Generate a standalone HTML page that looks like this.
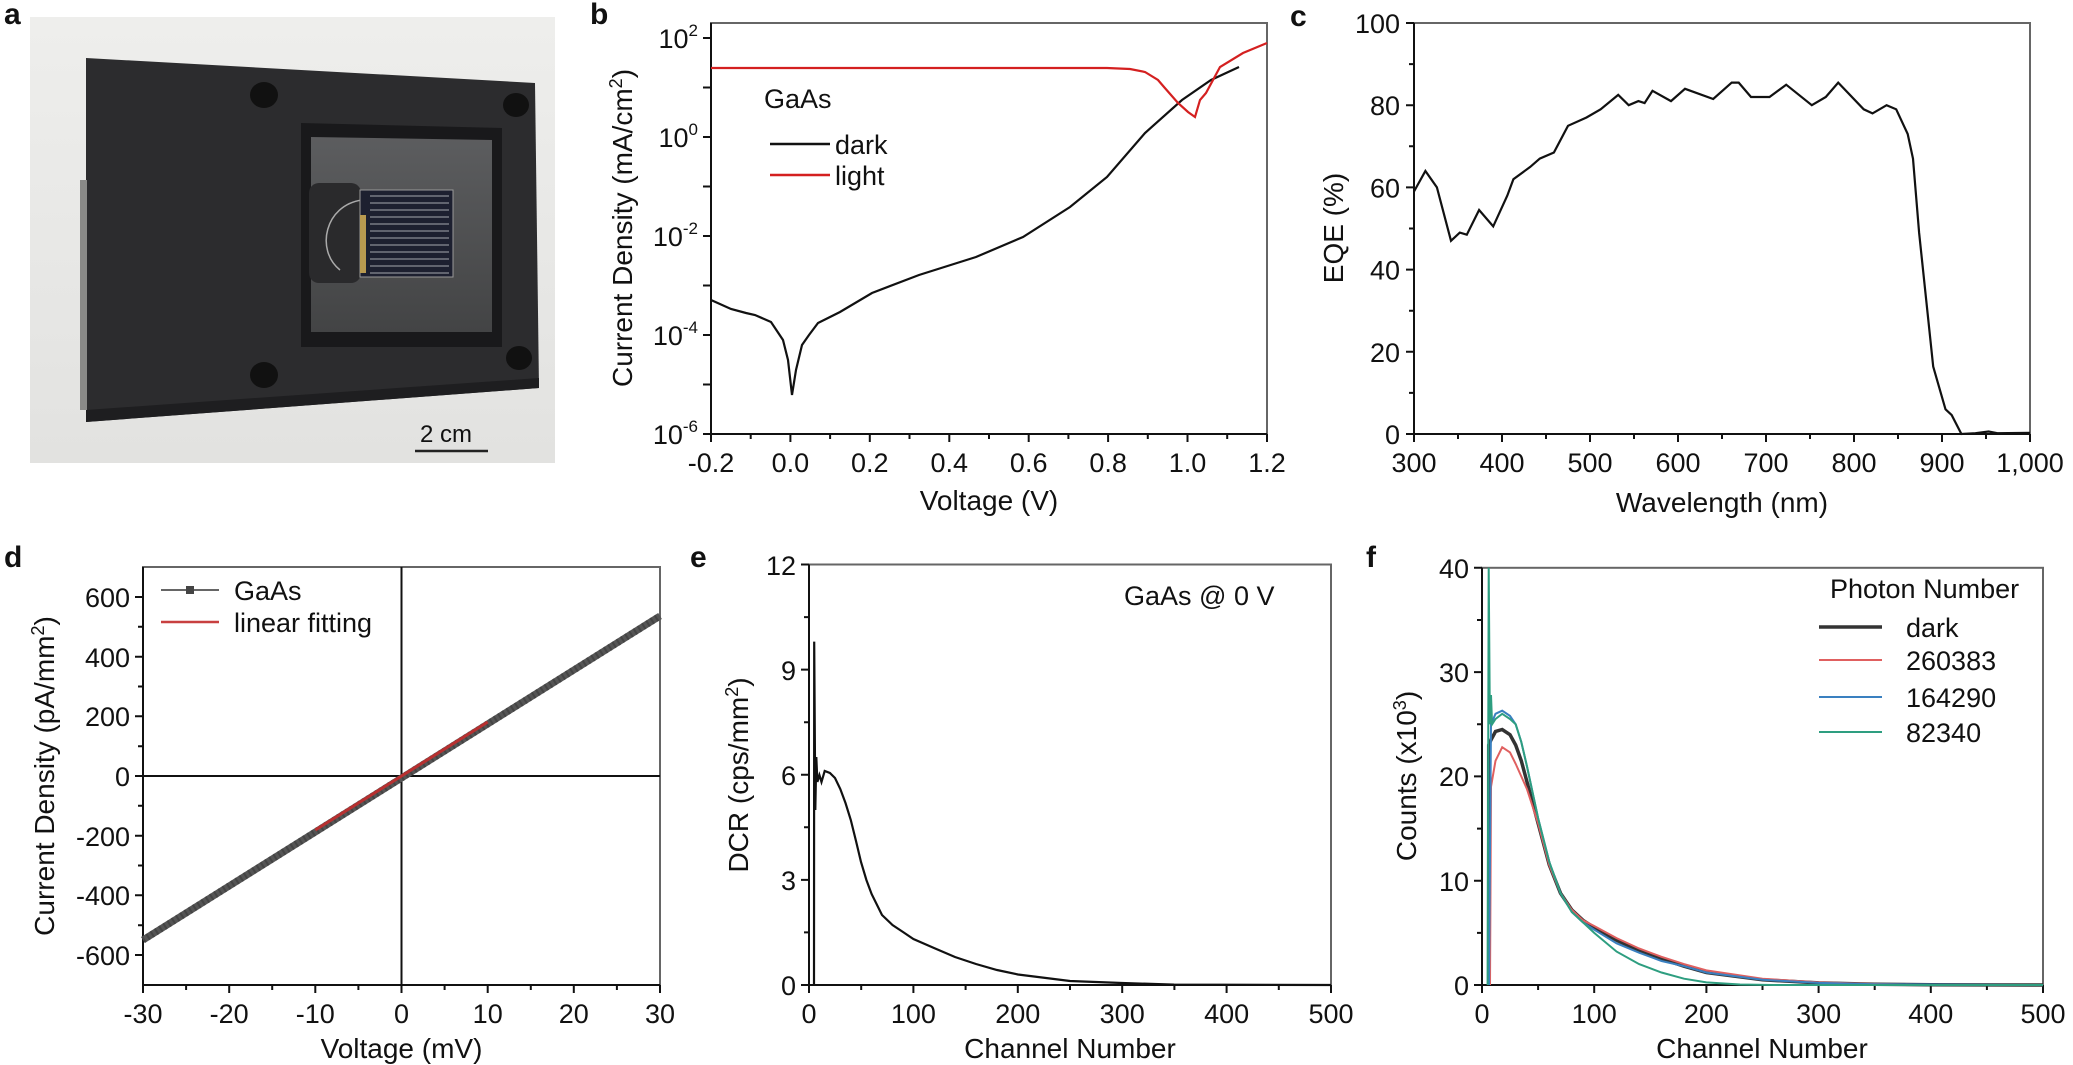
<!DOCTYPE html>
<html><head><meta charset="utf-8"><style>
html,body{margin:0;padding:0;background:#fff;}
svg{display:block;}
text{font-family:"Liberation Sans",Arial,sans-serif;fill:#111;}
.t{font-size:27px;}
.ti{font-size:28px;}
.L{font-size:30px;font-weight:bold;}
</style></head><body>
<svg width="2073" height="1065" viewBox="0 0 2073 1065" xmlns="http://www.w3.org/2000/svg">
<defs>
<linearGradient id="bg" x1="0" y1="0" x2="0" y2="1"><stop offset="0" stop-color="#eeeeec"/><stop offset="1" stop-color="#e2e2e0"/></linearGradient>
<linearGradient id="gl" x1="0" y1="0" x2="0" y2="1"><stop offset="0" stop-color="#5c5d5f"/><stop offset="1" stop-color="#434445"/></linearGradient>
</defs>
<!-- panel a photo -->
<rect x="30" y="17" width="525" height="446" fill="url(#bg)"/>
<polygon points="86,58 535,83 539,388 86,422" fill="#2c2c2e"/>
<polygon points="86,410 539,378 539,388 86,422" fill="#1e1e20"/>
<rect x="80" y="180" width="7" height="230" fill="#8a8a88"/>
<polygon points="301,123 502,128 502,347 301,347" fill="#19191b"/>
<polygon points="311,137 492,140 492,332 311,332" fill="url(#gl)"/>
<rect x="309" y="183" width="52" height="100" rx="10" fill="#2a2a2c"/>
<path d="M362,200 C325,205 315,250 340,270" stroke="#aaa" stroke-width="1.5" fill="none"/>
<rect x="360" y="190" width="93" height="87" fill="#1d2030" stroke="#999" stroke-width="1"/>
<g stroke="#8a8c95" stroke-width="1.2">
<line x1="370" y1="196" x2="449" y2="196"/><line x1="370" y1="203" x2="449" y2="203"/><line x1="370" y1="210" x2="449" y2="210"/><line x1="370" y1="217" x2="449" y2="217"/><line x1="370" y1="224" x2="449" y2="224"/><line x1="370" y1="231" x2="449" y2="231"/><line x1="370" y1="238" x2="449" y2="238"/><line x1="370" y1="245" x2="449" y2="245"/><line x1="370" y1="252" x2="449" y2="252"/><line x1="370" y1="259" x2="449" y2="259"/><line x1="370" y1="266" x2="449" y2="266"/><line x1="370" y1="273" x2="449" y2="273"/>
</g>
<rect x="360" y="215" width="6" height="58" fill="#b89a50"/>
<ellipse cx="264" cy="95" rx="14" ry="13" fill="#111"/><ellipse cx="516" cy="105" rx="13" ry="12" fill="#111"/>
<ellipse cx="264" cy="375" rx="14" ry="13" fill="#111"/><ellipse cx="519" cy="358" rx="13" ry="12" fill="#111"/>
<text x="446" y="442" text-anchor="middle" style="font-size:24px">2 cm</text>
<line x1="415" y1="451" x2="488" y2="451" stroke="#222" stroke-width="2.5"/>
<text class="L" x="4" y="24">a</text>
<text class="L" x="590" y="24">b</text>
<text class="L" x="1290" y="26">c</text>
<text class="L" x="4" y="567">d</text>
<text class="L" x="690" y="567">e</text>
<text class="L" x="1366" y="567">f</text>

<!-- panel b -->
<g stroke="#111" stroke-width="2" fill="none">
<rect x="711" y="23" width="556" height="411" stroke="#666"/>
<line x1="711" y1="23" x2="711" y2="434"/><line x1="711" y1="434" x2="1267" y2="434"/>
<path d="M711,434v8M750.7,434v5M790.4,434v8M830.1,434v5M869.8,434v8M909.5,434v5M949.3,434v8M989,434v5M1028.7,434v8M1068.4,434v5M1108.1,434v8M1147.8,434v5M1187.5,434v8M1227.2,434v5M1267,434v8"/>
<path d="M711,38h-8M711,87.5h-8M711,137h-8M711,186.5h-8M711,236h-8M711,285.5h-8M711,335h-8M711,384.5h-8M711,434h-8"/>
</g>
<g class="t" text-anchor="middle">
<text x="711" y="472">-0.2</text><text x="790.4" y="472">0.0</text><text x="869.8" y="472">0.2</text><text x="949.3" y="472">0.4</text><text x="1028.7" y="472">0.6</text><text x="1108.1" y="472">0.8</text><text x="1187.5" y="472">1.0</text><text x="1267" y="472">1.2</text>
</g>
<g class="t" text-anchor="end">
<text x="698" y="48">10<tspan dy="-12" style="font-size:17px">2</tspan></text>
<text x="698" y="147">10<tspan dy="-12" style="font-size:17px">0</tspan></text>
<text x="698" y="246">10<tspan dy="-12" style="font-size:17px">-2</tspan></text>
<text x="698" y="345">10<tspan dy="-12" style="font-size:17px">-4</tspan></text>
<text x="698" y="444">10<tspan dy="-12" style="font-size:17px">-6</tspan></text>
</g>
<text class="ti" x="989" y="510" text-anchor="middle">Voltage (V)</text>
<text class="ti" transform="translate(632,228) rotate(-90)" text-anchor="middle">Current Density (mA/cm<tspan dy="-10" style="font-size:18px">2</tspan><tspan dy="10">)</tspan></text>
<path d="M711,300 L731,309 746,313 755,315 771,322 783,340 788,360 792,395 796,370 802,345 809,335 818,323 840,312 872,293 919,275 976,257 1023,237 1070,207 1107,177 1145,133 1182,100 1211,80 1239,67" stroke="#111" stroke-width="2.2" fill="none"/>
<path d="M711,68 L1107,68 1130,69 1145,72 1158,80 1164,87 1178,103 1188,112 1195,117 1200,100 1206,93 1220,67 1243,53 1267,43" stroke="#d42020" stroke-width="2.2" fill="none"/>
<text class="t" x="764" y="108">GaAs</text>
<line x1="770" y1="144" x2="830" y2="144" stroke="#111" stroke-width="2.5"/>
<text class="t" x="835" y="154">dark</text>
<line x1="770" y1="175" x2="830" y2="175" stroke="#d42020" stroke-width="2.5"/>
<text class="t" x="835" y="185">light</text>

<!-- panel c -->
<g stroke="#111" stroke-width="2" fill="none">
<rect x="1414" y="23" width="616" height="411" stroke="#666"/>
<line x1="1414" y1="23" x2="1414" y2="434"/><line x1="1414" y1="434" x2="2030" y2="434"/>
<path d="M1414,434v8M1458,434v5M1502,434v8M1546,434v5M1590,434v8M1634,434v5M1678,434v8M1722,434v5M1766,434v8M1810,434v5M1854,434v8M1898,434v5M1942,434v8M1986,434v5M2030,434v8"/>
<path d="M1414,434h-8M1414,392.9h-5M1414,351.8h-8M1414,310.7h-5M1414,269.6h-8M1414,228.5h-5M1414,187.4h-8M1414,146.3h-5M1414,105.2h-8M1414,64.1h-5M1414,23h-8"/>
</g>
<g class="t" text-anchor="middle">
<text x="1414" y="472">300</text><text x="1502" y="472">400</text><text x="1590" y="472">500</text><text x="1678" y="472">600</text><text x="1766" y="472">700</text><text x="1854" y="472">800</text><text x="1942" y="472">900</text><text x="2030" y="472">1,000</text>
</g>
<g class="t" text-anchor="end">
<text x="1400" y="444">0</text><text x="1400" y="361.8">20</text><text x="1400" y="279.6">40</text><text x="1400" y="197.4">60</text><text x="1400" y="115.2">80</text><text x="1400" y="33">100</text>
</g>
<text class="ti" x="1722" y="512" text-anchor="middle">Wavelength (nm)</text>
<text class="ti" transform="translate(1343,228) rotate(-90)" text-anchor="middle">EQE (%)</text>
<path d="M1414,191.5 L1425.4,171 1436.9,187.4 1451,240.8 1459.8,232.6 1466.8,234.7 1479.1,210 1493.2,226.4 1507.3,195.6 1513.4,179.2 1530.2,166.9 1539.8,158.6 1553.9,152.5 1568,125.8 1586.5,117.5 1600.6,109.3 1618.2,94.9 1628.7,105.2 1638.4,101.1 1644.6,103.1 1652.5,90.8 1671,101.1 1685,88.8 1713.2,99 1731.7,82.6 1738.7,82.6 1751,97 1769.5,97 1786.2,84.7 1811.8,105.2 1825.8,97 1838.2,82.6 1863.7,109.3 1872.5,113.4 1886.6,105.2 1896.2,109.3 1907.7,134 1913,158.6 1919.1,232.6 1926.2,300 1933.2,366.6 1945.5,409.3 1951.7,415.1 1961.4,434 1975.4,433.2 1988.6,431.5 1997.4,433.2 2030,432.8" stroke="#111" stroke-width="2.2" fill="none"/>

<!-- panel d -->
<g stroke="#111" stroke-width="2" fill="none">
<rect x="143" y="567" width="517" height="418" stroke="#666"/>
<line x1="143" y1="567" x2="143" y2="985"/><line x1="143" y1="985" x2="660" y2="985"/>
<line x1="401.5" y1="567" x2="401.5" y2="985"/><line x1="143" y1="776" x2="660" y2="776"/>
<path d="M143,985v8M186.1,985v5M229.2,985v8M272.2,985v5M315.3,985v8M358.4,985v5M401.5,985v8M444.6,985v5M487.7,985v8M530.8,985v5M573.8,985v8M616.9,985v5M660,985v8"/>
<path d="M143,597h-8M143,626.8h-5M143,656.7h-8M143,686.5h-5M143,716.3h-8M143,746.2h-5M143,776h-8M143,805.8h-5M143,835.7h-8M143,865.5h-5M143,895.3h-8M143,925.2h-5M143,955h-8"/>
</g>
<g class="t" text-anchor="middle">
<text x="143" y="1023">-30</text><text x="229.2" y="1023">-20</text><text x="315.3" y="1023">-10</text><text x="401.5" y="1023">0</text><text x="487.7" y="1023">10</text><text x="573.8" y="1023">20</text><text x="660" y="1023">30</text>
</g>
<g class="t" text-anchor="end">
<text x="130" y="607">600</text><text x="130" y="667">400</text><text x="130" y="726">200</text><text x="130" y="786">0</text><text x="130" y="846">-200</text><text x="130" y="905">-400</text><text x="130" y="965">-600</text>
</g>
<text class="ti" x="401.5" y="1058" text-anchor="middle">Voltage (mV)</text>
<text class="ti" transform="translate(54,776) rotate(-90)" text-anchor="middle">Current Density (pA/mm<tspan dy="-10" style="font-size:18px">2</tspan><tspan dy="10">)</tspan></text>
<line x1="143" y1="940" x2="660" y2="616" stroke="#555" stroke-width="7"/>
<line x1="143" y1="940" x2="660" y2="616" stroke="#444" stroke-width="7" stroke-dasharray="2,3"/>
<line x1="315.3" y1="830" x2="487.7" y2="722" stroke="#b83030" stroke-width="3"/>
<line x1="161" y1="590" x2="219" y2="590" stroke="#666" stroke-width="2"/>
<rect x="186" y="586" width="8" height="8" fill="#444"/>
<text class="t" x="234" y="600">GaAs</text>
<line x1="161" y1="622" x2="219" y2="622" stroke="#c84040" stroke-width="2.5"/>
<text class="t" x="234" y="632">linear fitting</text>

<!-- panel e -->
<g stroke="#111" stroke-width="2" fill="none">
<rect x="809" y="564.5" width="522" height="420.5" stroke="#666"/>
<line x1="809" y1="564.5" x2="809" y2="985"/><line x1="809" y1="985" x2="1331" y2="985"/>
<path d="M809,985v8M861.2,985v5M913.4,985v8M965.6,985v5M1017.8,985v8M1070,985v5M1122.2,985v8M1174.4,985v5M1226.6,985v8M1278.8,985v5M1331,985v8"/>
<path d="M809,985h-8M809,932.4h-5M809,879.9h-8M809,827.3h-5M809,774.8h-8M809,722.2h-5M809,669.6h-8M809,617.1h-5M809,564.5h-8"/>
</g>
<g class="t" text-anchor="middle">
<text x="809" y="1023">0</text><text x="913.4" y="1023">100</text><text x="1017.8" y="1023">200</text><text x="1122.2" y="1023">300</text><text x="1226.6" y="1023">400</text><text x="1331" y="1023">500</text>
</g>
<g class="t" text-anchor="end">
<text x="796" y="995">0</text><text x="796" y="890">3</text><text x="796" y="785">6</text><text x="796" y="680">9</text><text x="796" y="575">12</text>
</g>
<text class="ti" x="1070" y="1058" text-anchor="middle">Channel Number</text>
<text class="ti" transform="translate(748,775) rotate(-90)" text-anchor="middle">DCR (cps/mm<tspan dy="-10" style="font-size:18px">2</tspan><tspan dy="10">)</tspan></text>
<text class="t" x="1124" y="605">GaAs @ 0 V</text>
<path d="M814,985 L814.2,641.6 815.3,810 816.3,757 817.4,782 819.4,775 821.5,782 824.7,771 829.9,773 835,778 840.3,789 845.5,803 850.8,820 856,841 861,862 866.4,880 871.6,894 882,915 892.5,925 903,932 913.4,939 934,948 955,957 976,964 997,970 1018,974.5 1070,981 1122,983 1174,984.6 1331,985" stroke="#111" stroke-width="2.2" fill="none"/>

<!-- panel f -->
<g stroke="#111" stroke-width="2" fill="none">
<rect x="1482" y="567.8" width="561" height="417.2" stroke="#666"/>
<line x1="1482" y1="567.8" x2="1482" y2="985"/><line x1="1482" y1="985" x2="2043" y2="985"/>
<path d="M1482,985v8M1538.1,985v5M1594.2,985v8M1650.3,985v5M1706.4,985v8M1762.5,985v5M1818.6,985v8M1874.7,985v5M1930.8,985v8M1986.9,985v5M2043,985v8"/>
<path d="M1482,985h-8M1482,932.9h-5M1482,880.7h-8M1482,828.6h-5M1482,776.4h-8M1482,724.3h-5M1482,672.1h-8M1482,620h-5M1482,567.8h-8"/>
</g>
<g class="t" text-anchor="middle">
<text x="1482" y="1023">0</text><text x="1594.2" y="1023">100</text><text x="1706.4" y="1023">200</text><text x="1818.6" y="1023">300</text><text x="1930.8" y="1023">400</text><text x="2043" y="1023">500</text>
</g>
<g class="t" text-anchor="end">
<text x="1469" y="995">0</text><text x="1469" y="891">10</text><text x="1469" y="786">20</text><text x="1469" y="682">30</text><text x="1469" y="578">40</text>
</g>
<text class="ti" x="1762" y="1058" text-anchor="middle">Channel Number</text>
<text class="ti" transform="translate(1416,776) rotate(-90)" text-anchor="middle">Counts (x10<tspan dy="-10" style="font-size:18px">3</tspan><tspan dy="10">)</tspan></text>
<path d="M1488.7,985 L1488.7,745 1491,739.9 1495.5,731.5 1502.2,729.5 1510,734.7 1515.7,745.1 1521.3,760.8 1526.9,781.6 1538.1,823.3 1549.3,865 1560.5,893.2 1571.8,909.9 1583,920.3 1594.2,927.6 1616.6,940.2 1639.1,950.6 1661.5,958.9 1684,966.2 1706.4,972.5 1762.5,979.8 1818.6,982.9 1874.7,984.2 1930.8,984.8 2043,985" stroke="#333" stroke-width="3.5" fill="none"/>
<path d="M1490,985 L1491,786.8 1495.5,760.8 1502.2,747.2 1510,752.4 1515.7,763.9 1521.3,776.4 1526.9,789 1538.1,823.3 1549.3,865 1560.5,893.2 1571.8,909.9 1583,920.3 1594.2,926 1616.6,938.1 1639.1,948.5 1661.5,956.8 1684,964.1 1706.4,970.4 1762.5,978.7 1818.6,982.4 1874.7,984 1930.8,984.8 2043,985" stroke="#e06060" stroke-width="2" fill="none"/>
<path d="M1489,985 L1491,724.3 1495.5,713.8 1502.2,710.7 1510,715.9 1515.7,724.3 1521.3,742 1526.9,766 1538.1,818.1 1549.3,861.9 1560.5,893.2 1571.8,912 1583,922.4 1594.2,929.7 1616.6,943.3 1639.1,952.7 1661.5,961 1684,966.2 1706.4,972.5 1762.5,979.8 1818.6,982.9 1874.7,984.2 2043,985" stroke="#3a80c0" stroke-width="2" fill="none"/>
<path d="M1487.6,985 L1488.7,567.8 1489.9,724.3 1491,695 1492.1,724.3 1495.5,719 1502.2,713.8 1510,719 1515.7,724.3 1521.3,742 1526.9,766 1538.1,818.1 1549.3,861.9 1560.5,893.2 1571.8,912 1583,922.4 1594.2,932.9 1616.6,951.6 1639.1,964.1 1661.5,972.5 1684,978.7 1706.4,982.4 1740,984.5 1773.7,985 2043,985" stroke="#2e9e80" stroke-width="2" fill="none"/>
<text class="t" x="1830" y="598">Photon Number</text>
<line x1="1819" y1="627" x2="1882" y2="627" stroke="#333" stroke-width="3.5"/><text class="t" x="1906" y="637">dark</text>
<line x1="1819" y1="660" x2="1882" y2="660" stroke="#e06060" stroke-width="2"/><text class="t" x="1906" y="670">260383</text>
<line x1="1819" y1="697" x2="1882" y2="697" stroke="#3a80c0" stroke-width="2"/><text class="t" x="1906" y="707">164290</text>
<line x1="1819" y1="732" x2="1882" y2="732" stroke="#2e9e80" stroke-width="2"/><text class="t" x="1906" y="742">82340</text>
</svg>
</body></html>
